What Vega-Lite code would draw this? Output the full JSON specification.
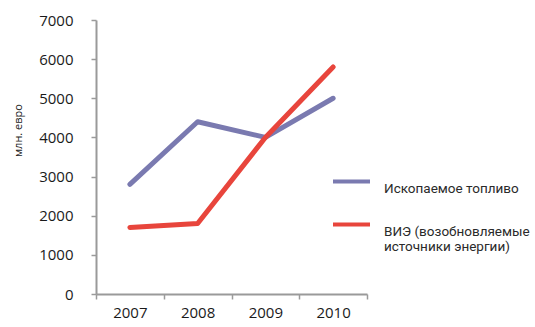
{
  "$schema": "https://vega.github.io/schema/vega-lite/v6.json",
  "autosize": "none",
  "width": 271,
  "height": 274,
  "padding": {"left": 96, "top": 20, "right": 168, "bottom": 33},
  "background": "white",
  "config": {
    "view": {"stroke": null},
    "axis": {
      "domainColor": "#9a9a9a",
      "tickColor": "#9a9a9a",
      "domainWidth": 2,
      "tickWidth": 1.5,
      "tickSize": 5,
      "grid": false,
      "labelFont": "Open Sans",
      "labelFontSize": 15,
      "labelColor": "#1a1a1a"
    }
  },
  "data": {
    "values": [
      {"year": "2007", "series": "Ископаемое топливо", "value": 2800},
      {"year": "2008", "series": "Ископаемое топливо", "value": 4400},
      {"year": "2009", "series": "Ископаемое топливо", "value": 4000},
      {"year": "2010", "series": "Ископаемое топливо", "value": 5000},
      {"year": "2007", "series": "ВИЭ (возобновляемые источники энергии)", "value": 1700},
      {"year": "2008", "series": "ВИЭ (возобновляемые источники энергии)", "value": 1800},
      {"year": "2009", "series": "ВИЭ (возобновляемые источники энергии)", "value": 4000},
      {"year": "2010", "series": "ВИЭ (возобновляемые источники энергии)", "value": 5800}
    ]
  },
  "mark": {"type": "line", "strokeWidth": 5, "strokeCap": "round", "strokeJoin": "round"},
  "encoding": {
    "x": {
      "field": "year",
      "type": "ordinal",
      "scale": {"type": "band", "paddingInner": 0, "paddingOuter": 0},
      "axis": {"title": null, "labelAngle": 0, "tickBand": "extent", "labelPadding": 6, "labelBaseline": "top"}
    },
    "y": {
      "field": "value",
      "type": "quantitative",
      "scale": {"domain": [0, 7000]},
      "axis": {
        "values": [0, 1000, 2000, 3000, 4000, 5000, 6000, 7000],
        "format": "d",
        "labelPadding": 18,
        "title": "млн. евро",
        "titleFont": "Open Sans",
        "titleFontSize": 11,
        "titleFontWeight": "normal",
        "titleColor": "#1a1a1a",
        "titleAngle": -90,
        "titleX": -78,
        "titleY": 110,
        "titleAlign": "center",
        "titleBaseline": "middle"
      }
    },
    "color": {
      "field": "series",
      "type": "nominal",
      "scale": {
        "domain": ["Ископаемое топливо", "ВИЭ (возобновляемые источники энергии)"],
        "range": ["#7a7ab0", "#e8453c"]
      },
      "legend": {
        "orient": "none",
        "legendX": 235,
        "legendY": 141,
        "title": null,
        "symbolType": "stroke",
        "symbolSize": 1369,
        "symbolStrokeWidth": 4,
        "labelFont": "Roboto",
        "labelFontSize": 13.5,
        "labelColor": "#2a2a2a",
        "labelLimit": 300,
        "labelOffset": 12,
        "labelBaseline": "top",
        "rowPadding": 9,
        "labelExpr": "datum.label == 'ВИЭ (возобновляемые источники энергии)' ? ['ВИЭ (возобновляемые', 'источники энергии)'] : datum.label"
      }
    }
  }
}
